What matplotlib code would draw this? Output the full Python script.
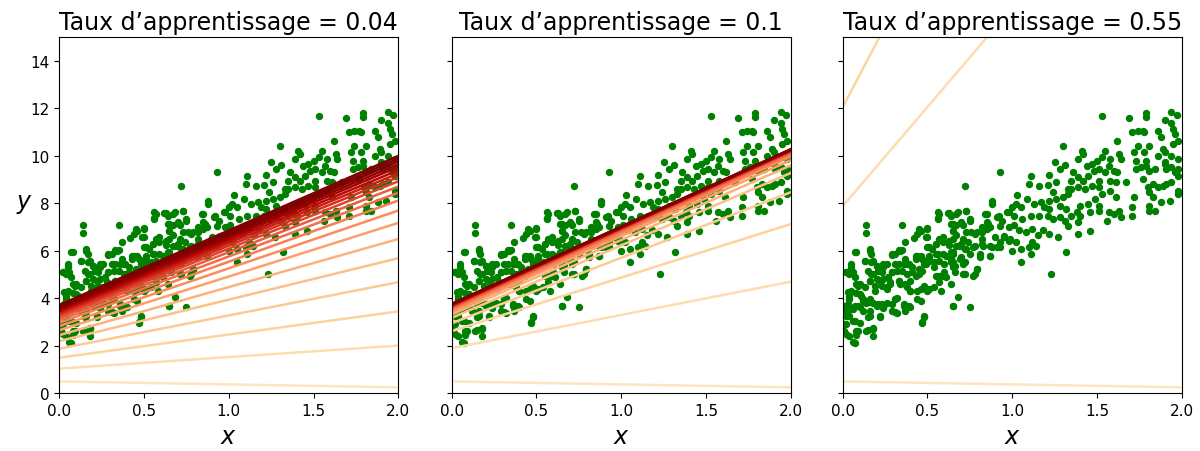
import numpy as np
import matplotlib
matplotlib.use("Agg")
import matplotlib.pyplot as plt

# training points (x, y) in vertical bands
points_left = [
    (0.56, 7.62), (0.56, 7.39), (0.63, 7.58), (0.65, 7.15), (0.65, 6.82), (0.59, 6.58),
    (0.59, 6.37), (0.55, 6.30), (0.53, 6.09), (0.50, 6.16), (0.49, 6.58), (0.50, 6.97),
    (0.45, 6.94), (0.44, 6.73), (0.42, 6.54), (0.37, 6.37), (0.35, 7.08), (0.14, 7.08),
    (0.14, 6.77), (0.08, 5.97), (0.16, 6.09), (0.17, 5.87), (0.13, 5.59), (0.18, 5.59),
    (0.20, 5.38), (0.21, 5.17), (0.24, 5.31), (0.26, 5.45), (0.29, 5.87), (0.31, 5.87),
    (0.33, 6.02), (0.35, 6.02), (0.37, 5.66), (0.36, 5.45), (0.33, 5.45), (0.32, 5.17),
    (0.29, 5.10), (0.27, 4.88), (0.24, 4.81), (0.20, 4.81), (0.17, 5.02), (0.16, 4.74),
    (0.19, 4.53), (0.23, 4.53), (0.26, 4.46), (0.28, 4.60), (0.33, 4.74), (0.34, 4.60),
    (0.38, 4.46), (0.40, 4.32), (0.44, 4.32), (0.48, 4.53), (0.51, 4.39), (0.54, 4.46),
    (0.58, 4.32), (0.57, 4.67), (0.55, 4.95), (0.59, 4.95), (0.61, 4.88), (0.60, 5.45),
    (0.57, 5.59), (0.54, 5.52), (0.51, 5.59), (0.48, 5.45), (0.47, 5.17), (0.44, 5.80),
    (0.43, 5.66), (0.51, 5.80), (0.55, 5.87), (0.59, 5.87), (0.62, 5.80), (0.65, 5.87),
    (0.63, 6.23), (0.64, 5.66), (0.65, 5.31), (0.66, 5.10), (0.45, 5.02), (0.43, 4.95),
    (0.40, 4.74), (0.38, 5.02), (0.41, 5.31), (0.39, 5.45), (0.02, 5.10), (0.05, 5.31),
    (0.04, 5.02), (0.07, 4.88), (0.10, 4.60), (0.09, 4.53), (0.13, 4.46), (0.08, 4.24),
    (0.05, 4.32), (0.04, 4.10), (0.11, 4.10), (0.16, 3.96), (0.18, 3.82), (0.21, 3.75),
    (0.26, 3.82), (0.29, 3.75), (0.31, 3.96), (0.32, 4.03), (0.24, 3.61), (0.22, 3.25),
    (0.16, 3.25), (0.12, 3.46), (0.09, 3.68), (0.07, 3.68), (0.03, 3.75), (0.02, 3.39),
    (0.04, 3.25), (0.06, 3.04), (0.10, 2.97), (0.02, 2.90), (0.15, 2.68), (0.18, 2.76),
    (0.09, 2.61), (0.08, 2.47), (0.04, 2.40), (0.18, 2.40), (0.07, 2.12), (0.36, 3.75),
    (0.39, 3.68), (0.37, 3.46), (0.32, 3.39), (0.48, 3.25), (0.47, 2.97), (0.65, 3.68),
    (0.44, 3.96), (0.46, 3.89), (0.01, 2.61), (0.01, 3.54), (0.05, 3.54), (0.12, 3.89),
    (0.14, 3.82),
]
points_low_dense = [
    (0.07, 5.94), (0.16, 6.01), (0.29, 5.83), (0.34, 6.01), (0.43, 5.77), (0.47, 5.66),
    (0.50, 5.52), (0.05, 5.45), (0.13, 5.59), (0.17, 5.52), (0.20, 5.38), (0.24, 5.45),
    (0.31, 5.45), (0.38, 5.45), (0.02, 5.10), (0.06, 5.10), (0.15, 5.17), (0.18, 5.03),
    (0.23, 5.10), (0.29, 5.10), (0.35, 5.17), (0.41, 5.10), (0.45, 5.24), (0.16, 4.75),
    (0.22, 4.75), (0.28, 4.68), (0.33, 4.75), (0.37, 4.60), (0.08, 4.60), (0.03, 4.25),
    (0.10, 4.18), (0.19, 4.32), (0.26, 4.39), (0.40, 4.32), (0.46, 4.39), (0.50, 4.32),
    (0.04, 3.97), (0.12, 3.97), (0.16, 3.83), (0.20, 3.69), (0.23, 3.76), (0.31, 3.97),
    (0.01, 3.69), (0.06, 3.55), (0.10, 3.62), (0.16, 3.48), (0.24, 3.62), (0.29, 3.48),
    (0.36, 3.69), (0.40, 3.62), (0.31, 3.41), (0.02, 3.27), (0.01, 2.92), (0.07, 3.06),
    (0.15, 3.20), (0.22, 3.20), (0.02, 2.50), (0.08, 2.64), (0.14, 2.64), (0.18, 2.71),
    (0.06, 2.15), (0.48, 3.20), (0.47, 2.99),
]
points_center_dense = [
    (0.57, 7.55), (0.62, 7.58), (0.67, 7.55), (0.73, 7.69), (0.85, 7.55), (0.92, 7.48),
    (0.97, 7.62), (0.56, 7.34), (0.70, 7.20), (0.75, 7.27), (0.86, 7.13), (0.93, 7.06),
    (0.50, 6.92), (0.64, 7.13), (0.65, 6.85), (0.73, 6.78), (0.78, 6.71), (0.82, 6.78),
    (0.85, 6.92), (0.90, 6.57), (0.95, 6.64), (0.98, 6.43), (0.46, 6.85), (0.50, 6.57),
    (0.57, 6.50), (0.55, 6.29), (0.51, 6.15), (0.63, 6.43), (0.67, 6.22), (0.70, 6.29),
    (0.73, 6.08), (0.77, 6.15), (0.82, 6.29), (0.87, 6.22), (0.93, 6.15), (0.46, 5.80),
    (0.51, 5.73), (0.56, 5.87), (0.61, 5.80), (0.64, 5.94), (0.69, 5.66), (0.72, 5.52),
    (0.81, 5.73), (0.87, 5.80), (0.49, 5.45), (0.54, 5.31), (0.65, 5.52), (0.66, 5.38),
    (0.79, 5.24), (0.71, 5.03), (0.77, 4.95), (0.57, 4.95), (0.60, 5.10),
]
points_mid = [
    (1.30, 10.41), (1.25, 9.76), (1.31, 9.62), (1.28, 9.46), (1.22, 9.20), (1.26, 8.89),
    (0.93, 9.31), (1.11, 9.15), (1.10, 8.82), (1.16, 8.75), (1.21, 8.78), (0.72, 8.72),
    (1.24, 8.47), (1.03, 8.36), (1.09, 8.19), (0.88, 8.12), (0.88, 7.98), (1.17, 8.05),
    (1.22, 8.12), (1.26, 8.19), (1.30, 8.26), (1.33, 8.61), (1.02, 7.98), (1.00, 7.84),
    (1.05, 7.84), (1.13, 7.98), (1.19, 7.84), (1.22, 7.77), (1.28, 7.91), (1.32, 7.77),
    (0.68, 7.63), (0.73, 7.70), (0.75, 7.35), (0.64, 7.49), (0.84, 7.56), (0.91, 7.42),
    (0.94, 7.28), (0.98, 7.63), (1.01, 7.49), (1.06, 7.35), (1.11, 7.49), (1.16, 7.49),
    (1.21, 7.49), (1.24, 7.35), (1.28, 7.42), (1.31, 7.28), (0.85, 7.21), (0.87, 6.99),
    (0.82, 6.99), (0.79, 6.79), (0.76, 6.79), (0.71, 7.07), (0.67, 7.07), (0.67, 6.65),
    (0.71, 6.50), (0.74, 6.36), (0.65, 6.50), (0.69, 6.22), (0.72, 6.08), (0.75, 5.87),
    (0.81, 5.87), (0.83, 6.22), (0.88, 6.15), (0.95, 6.57), (0.98, 6.99), (1.01, 7.07),
    (1.04, 6.86), (1.08, 6.79), (1.12, 6.93), (1.15, 6.65), (1.18, 6.86), (1.22, 6.72),
    (1.27, 6.57), (0.99, 6.50), (1.02, 6.36), (1.05, 6.08), (1.00, 6.01), (1.10, 6.15),
    (1.12, 6.36), (1.14, 6.22), (0.87, 5.80), (0.91, 6.15), (0.93, 6.36), (0.82, 6.50),
    (0.78, 6.22), (0.65, 5.94), (0.64, 5.52), (0.71, 5.45), (0.70, 5.73), (0.79, 5.24),
    (0.78, 5.03), (0.72, 5.03), (1.05, 5.52), (1.11, 5.87), (1.32, 5.94), (1.23, 5.03),
    (0.64, 4.61), (0.68, 4.05), (0.65, 3.69), (0.75, 3.62),
]
points_right = [
    (1.53, 11.67), (1.69, 11.60), (1.79, 11.81), (1.79, 11.63), (1.94, 11.87), (1.97, 11.73),
    (1.90, 11.53), (1.94, 11.39), (1.95, 11.14), (1.96, 10.92), (1.71, 10.99), (1.74, 11.07),
    (1.77, 11.07), (1.78, 11.02), (1.86, 11.07), (1.88, 10.78), (1.62, 10.62), (1.74, 10.43),
    (1.81, 10.43), (1.95, 10.50), (1.89, 10.29), (1.98, 10.64), (1.55, 10.22), (1.41, 10.22),
    (1.42, 10.08), (1.63, 10.08), (1.64, 9.87), (1.72, 10.15), (1.73, 9.80), (1.78, 10.15),
    (1.79, 9.80), (1.86, 10.01), (1.90, 10.15), (1.94, 10.01), (1.98, 9.87), (1.39, 9.87),
    (1.50, 9.80), (1.53, 9.94), (1.58, 9.87), (1.47, 9.66), (1.44, 9.59), (1.57, 9.59),
    (1.73, 9.45), (1.76, 9.52), (1.79, 9.59), (1.81, 9.38), (1.84, 9.45), (1.90, 9.66),
    (1.91, 9.45), (1.94, 9.52), (1.98, 9.45), (1.98, 9.17), (1.96, 9.31), (1.90, 9.73),
    (1.36, 9.31), (1.39, 9.10), (1.42, 8.96), (1.35, 8.96), (1.45, 9.17), (1.48, 9.38),
    (1.51, 9.45), (1.55, 9.31), (1.60, 9.38), (1.62, 9.31), (1.58, 8.96), (1.61, 8.89),
    (1.67, 8.89), (1.51, 8.96), (1.47, 8.75), (1.43, 8.61), (1.39, 8.68), (1.35, 8.61),
    (1.33, 8.40), (1.51, 8.68), (1.53, 8.40), (1.58, 8.54), (1.61, 8.26), (1.72, 8.26),
    (1.77, 9.03), (1.80, 8.68), (1.83, 8.82), (1.86, 8.68), (1.89, 8.75), (1.91, 8.82),
    (1.94, 8.89), (1.98, 8.54), (1.98, 8.40), (1.81, 8.47), (1.83, 8.26), (1.88, 8.04),
    (1.93, 8.11), (1.81, 7.90), (1.84, 7.69), (1.81, 7.69), (1.71, 7.83), (1.71, 7.48),
    (1.63, 7.69), (1.64, 7.41), (1.60, 7.55), (1.56, 7.27), (1.51, 7.90), (1.49, 8.18),
    (1.45, 7.97), (1.40, 7.90), (1.38, 7.62), (1.35, 7.48), (1.40, 7.48), (1.46, 7.62),
    (1.51, 7.69), (1.57, 7.62), (1.39, 7.20), (1.39, 6.71), (1.46, 6.85), (1.33, 7.06),
]

learning_rates = [0.04, 0.1, 0.55]

# model predictions at x=0 and x=2 for each shown step of gradient descent
pred_start = [
    [0.50, 1.04, 1.50, 1.88, 2.20, 2.45, 2.66, 2.83, 2.97, 3.08,
     3.18, 3.26, 3.33, 3.40, 3.46, 3.52, 3.57, 3.62, 3.67, 3.72],
    [0.50, 1.90, 2.62, 2.95, 3.18, 3.32, 3.42, 3.49, 3.54, 3.58,
     3.62, 3.65, 3.68, 3.70, 3.72, 3.73, 3.74, 3.75, 3.76, 3.77],
    [0.50, 7.88, 12.05],
]
pred_end = [
    [0.25, 2.01, 3.45, 4.68, 5.69, 6.50, 7.18, 7.70, 8.12, 8.45,
     8.71, 8.93, 9.11, 9.26, 9.40, 9.54, 9.66, 9.78, 9.89, 10.00],
    [0.25, 4.70, 7.13, 8.47, 9.28, 9.60, 9.82, 9.97, 10.06, 10.12,
     10.16, 10.19, 10.21, 10.23, 10.24, 10.25, 10.26, 10.27, 10.27, 10.28],
    [0.25, 24.6, 39.3],
]
n_shown = 20

pts = np.array(points_left + points_low_dense + points_center_dense + points_mid + points_right)
X = pts[:, 0]
y = pts[:, 1]
X_new = np.array([0, 2])

fig = plt.figure(figsize=(12, 4.52), dpi=100)
lefts = [0.0494, 0.3764, 0.7022]
axes = []
for i, eta in enumerate(learning_rates):
    if i == 0:
        ax = fig.add_axes([lefts[i], 0.1277, 0.2825, 0.7876])
    else:
        ax = fig.add_axes([lefts[i], 0.1277, 0.2825, 0.7876], sharey=axes[0])
        ax.tick_params(labelleft=False)
    axes.append(ax)

    ax.plot(X, y, "o", color="green", markersize=4.3)
    for k, (a, b) in enumerate(zip(pred_start[i], pred_end[i])):
        color = plt.cm.OrRd(k / n_shown + 0.15)
        ax.plot(X_new, [a, b], linestyle="solid", color=color, linewidth=1.8)

    ax.set_xlim(0, 2)
    ax.set_ylim(0, 15)
    ax.set_xticks([0, 0.5, 1.0, 1.5, 2.0])
    ax.set_yticks(range(0, 15, 2))
    ax.tick_params(labelsize=11)
    ax.set_xlabel("$x$", fontsize=17)
    ax.set_title(f"Taux d\u2019apprentissage = {eta}", fontsize=17)

axes[0].set_ylabel("$y$", rotation=0, fontsize=17)

plt.savefig("out.png")
